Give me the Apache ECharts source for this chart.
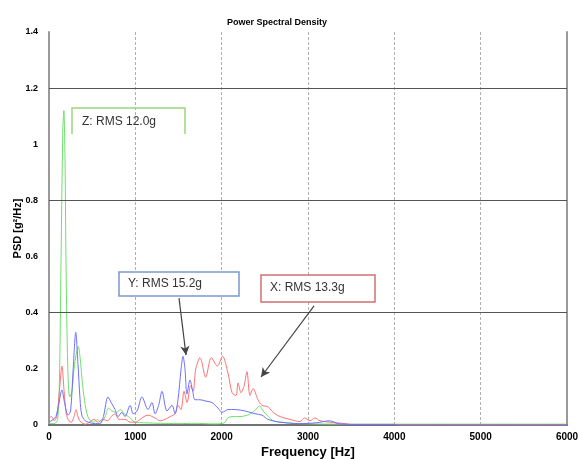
<!DOCTYPE html>
<html>
<head>
<meta charset="utf-8">
<script src="https://cdn.jsdelivr.net/npm/echarts@6/dist/echarts.min.js"></script>
<style>
html,body{margin:0;padding:0;background:#fff;}
#chart{width:583px;height:459px;}
</style>
</head>
<body>
<div id="chart"></div>
<script>
// ---- Data (frequency in Hz, PSD in g^2/Hz) ----
var freqX = [0,30,60,90,120,150,175,200,230,260,290,313,340,370,420,470,520,570,620,680,720,765,810,880,940,1000,1054,1100,1147,1228,1286,1344,1402,1460,1494,1529,1564,1600,1640,1670,1700,1750,1815,1880,1950,2010,2073,2120,2166,2189,2224,2260,2293,2328,2363,2421,2467,2537,2580,2618,2676,2792,2907,2960,3023,3080,3139,3255,3429,3500,4000,4050,6000];
var psdX  = [0.025,0.03,0.015,0.03,0.12,0.21,0.12,0.04,0.015,0.01,0.03,0.055,0.025,0.01,0.003,0.01,0.02,0.01,0.02,0.015,0.03,0.04,0.02,0.02,0.01,0.01,0.02,0.03,0.035,0.025,0.015,0.02,0.03,0.04,0.07,0.055,0.12,0.08,0.14,0.12,0.2,0.24,0.17,0.24,0.21,0.245,0.185,0.115,0.105,0.15,0.115,0.14,0.19,0.105,0.13,0.09,0.07,0.065,0.05,0.04,0.03,0.02,0.012,0.025,0.015,0.025,0.015,0.01,0.005,0.002,0.002,0,0];

var freqY = [0,50,80,110,150,180,220,250,280,310,335,360,380,420,460,520,590,630,683,720,765,800,845,880,940,975,1020,1077,1147,1193,1228,1270,1309,1367,1425,1460,1494,1530,1552,1575,1598,1633,1665,1691,1749,1819,1888,1958,2004,2040,2073,2155,2270,2386,2467,2537,2676,2900,3100,3250,3350,3500,4000,4050,6000];
var psdY  = [0.01,0.02,0.03,0.07,0.125,0.08,0.035,0.05,0.2,0.33,0.22,0.09,0.035,0.015,0.01,0.005,0.005,0.03,0.1,0.08,0.055,0.03,0.045,0.03,0.07,0.04,0.05,0.1,0.055,0.08,0.04,0.07,0.12,0.05,0.07,0.04,0.09,0.2,0.245,0.2,0.11,0.16,0.12,0.09,0.09,0.085,0.08,0.06,0.045,0.05,0.055,0.055,0.05,0.04,0.035,0.02,0.01,0.005,0.008,0.015,0.005,0.002,0.002,0,0];

var freqZ = [0,60,100,120,140,160,172,185,200,220,240,265,290,320,340,360,390,420,450,480,520,560,600,650,690,730,780,830,870,920,970,1000,1100,1300,1500,1700,1900,2000,2040,2070,2120,2200,2300,2380,2440,2480,2540,2600,2700,2900,3500,6000];
var psdZ  = [0.005,0.005,0.02,0.15,0.6,1.05,1.12,0.95,0.5,0.18,0.1,0.12,0.2,0.26,0.28,0.24,0.14,0.07,0.03,0.015,0.01,0.02,0.01,0.03,0.06,0.05,0.045,0.055,0.04,0.03,0.015,0.01,0.008,0.006,0.005,0.006,0.004,0.005,0.01,0.025,0.03,0.03,0.035,0.05,0.068,0.05,0.03,0.015,0.01,0.005,0.003,0.003];

var xTicks = [0,1000,2000,3000,4000,5000,6000];
var yTicks = [0,0.2,0.4,0.6,0.8,1,1.2,1.4];
var majorGridY = [0.4,0.8,1.2];

var annotations = [
  {name:'Z', text:'Z: RMS 12.0g'},
  {name:'Y', text:'Y: RMS 15.2g'},
  {name:'X', text:'X: RMS 13.3g'}
];
// arrows in data coordinates [freq, psd]
var arrowY = [[1506,0.452],[1587,0.249]];
var arrowX = [[3070,0.424],[2456,0.171]];

function pairs(f, v){ return f.map(function(x,i){return [x, v[i]];}); }

var chart = echarts.init(document.getElementById('chart'), null, {renderer:'canvas'});
var FF = 'Liberation Sans, Arial, sans-serif';
var lbl = {fontFamily:FF, fontWeight:'bold', fontSize:10, color:'#000'};

var option = {
  animation:false,
  backgroundColor:'#fff',
  title:{
    text:'Power Spectral Density', left:272, top:13, textAlign:'center',
    textStyle:{fontFamily:FF, fontWeight:'bold', fontSize:9, color:'#000'}
  },
  grid:{left:49, right:16, top:32, bottom:34, containLabel:false, outerBoundsMode:'none'},
  xAxis:{
    type:'value', min:xTicks[0], max:xTicks[xTicks.length-1], interval:1000,
    name:'Frequency [Hz]', nameLocation:'middle', nameGap:21, nameMoveOverlap:false,
    nameTextStyle:{fontFamily:FF, fontWeight:'bold', fontSize:13, color:'#000'},
    axisLine:{show:true, onZero:false, lineStyle:{color:'#444', width:1.5}},
    axisTick:{show:false},
    axisLabel:Object.assign({margin:7, formatter:function(v){return String(v);}}, lbl),
    splitLine:{show:true, lineStyle:{color:'#b0b0b0', width:1, type:[3,2]}}
  },
  yAxis:[{
    type:'value', min:yTicks[0], max:yTicks[yTicks.length-1], interval:0.2,
    name:'PSD [g\u00b2/Hz]', nameLocation:'middle', nameGap:26, nameMoveOverlap:false,
    nameTextStyle:{fontFamily:FF, fontWeight:'bold', fontSize:11, color:'#000'},
    axisLine:{show:true, lineStyle:{color:'#999', width:2}},
    axisTick:{show:false},
    axisLabel:Object.assign({}, lbl, {margin:11, fontSize:9, formatter:function(v){return String(+v.toFixed(1));}}),
    splitLine:{show:false}
  },{
    type:'value', min:0, max:1.4, position:'right',
    axisLine:{show:true, lineStyle:{color:'#999', width:2}},
    axisTick:{show:false}, axisLabel:{show:false},
    splitLine:{show:false}
  }],
  series:[
    {name:'Z', type:'line', data:pairs(freqZ, psdZ), showSymbol:false, smooth:0.3,
     lineStyle:{color:'#6fe06f', width:1}, itemStyle:{color:'#6fe06f'}, z:3,
     markLine:{silent:true, symbol:['none','none'], label:{show:false},
       lineStyle:{color:'#555', width:1, type:'solid'},
       data:majorGridY.map(function(v){return {yAxis:v};})}},
    {name:'X', type:'line', data:pairs(freqX, psdX), showSymbol:false, smooth:0.3,
     lineStyle:{color:'#ff7373', width:1}, itemStyle:{color:'#ff7373'}, z:4,
     markLine:{silent:true, symbol:['none','arrow'], symbolSize:[7,9],
       lineStyle:{color:'#444', width:1.2, type:'solid'}, label:{show:false},
       data:[[{coord:arrowX[0]},{coord:arrowX[1]}]]}},
    {name:'Y', type:'line', data:pairs(freqY, psdY), showSymbol:false, smooth:0.3,
     lineStyle:{color:'#6f6fff', width:1}, itemStyle:{color:'#6f6fff'}, z:5,
     markLine:{silent:true, symbol:['none','arrow'], symbolSize:[7,9],
       lineStyle:{color:'#444', width:1.2, type:'solid'}, label:{show:false},
       data:[[{coord:arrowY[0]},{coord:arrowY[1]}]]}}
  ],
  graphic:[
    {type:'polyline', shape:{points:[[72,134],[72,108],[185,108],[185,134]]}, style:{stroke:'#9ad87a', lineWidth:1.5, fill:null}, z:100},
    {type:'text', left:82, top:116, style:{text:annotations[0].text, fontFamily:FF, fontSize:12, fill:'#333'}, z:101},
    {type:'rect', shape:{x:119, y:272, width:120, height:24}, style:{stroke:'#7a98d0', lineWidth:1.5, fill:'#fff'}, z:100},
    {type:'text', left:128, top:278, style:{text:annotations[1].text, fontFamily:FF, fontSize:12, fill:'#333'}, z:101},
    {type:'rect', shape:{x:261, y:275, width:114, height:27}, style:{stroke:'#d07070', lineWidth:1.5, fill:'#fff'}, z:100},
    {type:'text', left:270, top:282, style:{text:annotations[2].text, fontFamily:FF, fontSize:12, fill:'#333'}, z:101}
  ]
};
chart.setOption(option);
</script>
</body>
</html>
